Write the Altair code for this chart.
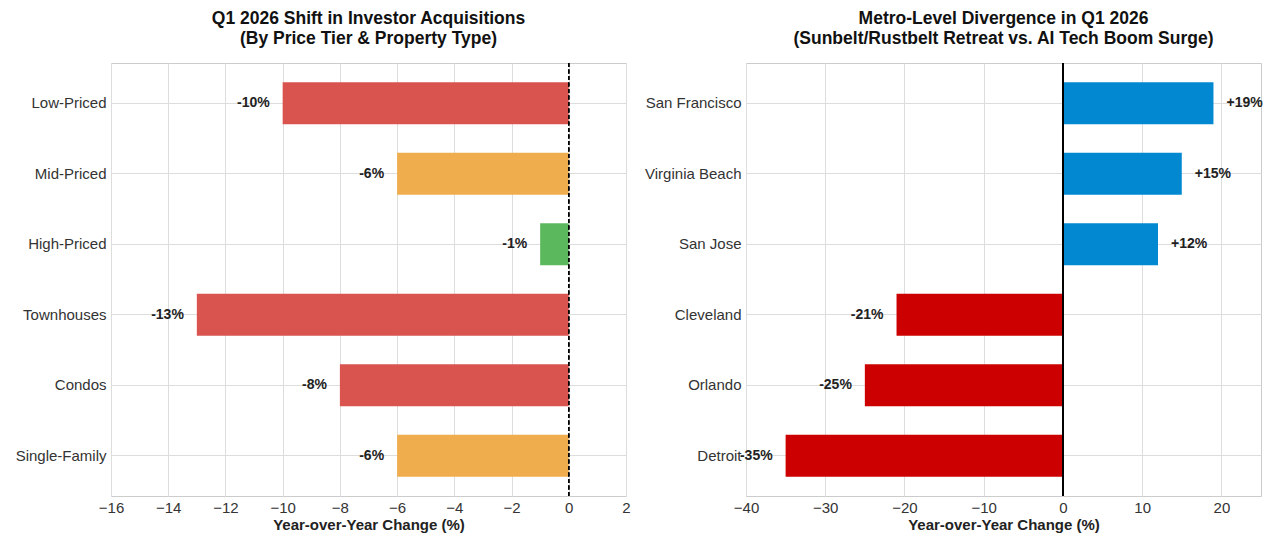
import altair as alt
import pandas as pd

# Left panel: investor acquisitions by price tier / property type
tier_labels = ["Low-Priced", "Mid-Priced", "High-Priced", "Townhouses", "Condos", "Single-Family"]
tier_changes = [-10, -6, -1, -13, -8, -6]
tier_colors = ["#d9534f", "#f0ad4e", "#5cb85c", "#d9534f", "#d9534f", "#f0ad4e"]

# Right panel: metro-level divergence
metro_labels = ["San Francisco", "Virginia Beach", "San Jose", "Cleveland", "Orlando", "Detroit"]
metro_changes = [19, 15, 12, -21, -25, -35]
metro_colors = ["#0288d1", "#0288d1", "#0288d1", "#cc0000", "#cc0000", "#cc0000"]

FONT = "Liberation Sans"
W, H = 515, 433

left_df = pd.DataFrame({
    "cat": tier_labels,
    "val": tier_changes,
    "color": tier_colors,
    "label": [f"{v}%" for v in tier_changes],
})
right_df = pd.DataFrame({
    "cat": metro_labels,
    "val": metro_changes,
    "color": metro_colors,
    "label": [f"{v:+d}%" for v in metro_changes],
})


def panel(df, domain, ticks, title_lines, zero_dash, y_extent):
    order = list(df["cat"])
    y_enc = alt.Y(
        "cat:N",
        sort=order,
        title=None,
        scale=alt.Scale(paddingInner=0.4, paddingOuter=0.27),
        axis=alt.Axis(
            bandPosition=0.5, grid=True, ticks=False, domain=False,
            labelFontSize=15, labelColor="#333333", labelPadding=5,
            labelFont=FONT, gridColor="#dddddd",
            minExtent=y_extent, maxExtent=y_extent,
        ),
    )
    x_scale = alt.Scale(domain=domain, nice=False, zero=False)
    x_enc = alt.X(
        "val:Q",
        scale=x_scale,
        title="Year-over-Year Change (%)",
        axis=alt.Axis(
            values=ticks, grid=True, ticks=False, domain=False,
            labelFontSize=15, labelColor="#333333", labelPadding=4,
            labelFont=FONT, gridColor="#dddddd",
            titleFontSize=15, titleFont=FONT, titleFontWeight="bold",
            titleColor="#222222", titlePadding=2, labelFlush=False,
        ),
    )
    bars = alt.Chart(df).mark_bar(size=42).encode(
        x=x_enc,
        x2=alt.datum(0),
        y=y_enc,
        color=alt.Color("color:N", scale=None),
    )
    zero = alt.Chart(df).mark_rule(
        color="black",
        strokeWidth=0.9 if zero_dash else 1.3,
        strokeDash=[4, 2.5] if zero_dash else [1, 0],
    ).encode(x=alt.X("z:Q", scale=x_scale)).transform_calculate(z="0")
    neg = df[df["val"] < 0]
    pos = df[df["val"] > 0]
    text_neg = alt.Chart(neg).mark_text(
        align="right", baseline="middle", dx=-13, fontSize=14,
        fontWeight="bold", font=FONT, color="#222222",
    ).encode(x=alt.X("val:Q", scale=x_scale), y=alt.Y("cat:N", sort=order), text="label:N")
    layers = [bars, zero, text_neg]
    if len(pos):
        text_pos = alt.Chart(pos).mark_text(
            align="left", baseline="middle", dx=13, fontSize=14,
            fontWeight="bold", font=FONT, color="#222222",
        ).encode(x=alt.X("val:Q", scale=x_scale), y=alt.Y("cat:N", sort=order), text="label:N")
        layers.append(text_pos)
    return alt.layer(*layers).properties(
        width=W, height=H,
        title=alt.TitleParams(
            text=title_lines, fontSize=17.5, font=FONT, fontWeight="bold",
            color="#111111", lineHeight=20, offset=15, anchor="middle",
        ),
    )


left = panel(left_df, [-16, 2], list(range(-16, 3, 2)),
             ["Q1 2026 Shift in Investor Acquisitions", "(By Price Tier & Property Type)"],
             True, 100)
right = panel(right_df, [-40, 25], list(range(-40, 21, 10)),
              ["Metro-Level Divergence in Q1 2026", "(Sunbelt/Rustbelt Retreat vs. AI Tech Boom Surge)"],
              False, 100)

chart = alt.hconcat(left, right, spacing=13).properties(
    padding={"left": 10, "top": 9, "right": 10, "bottom": 5},
    background="white",
).configure_view(
    stroke="#cccccc", strokeWidth=1,
)

chart.save("out.html", embed_options={"renderer": "svg", "actions": False})
